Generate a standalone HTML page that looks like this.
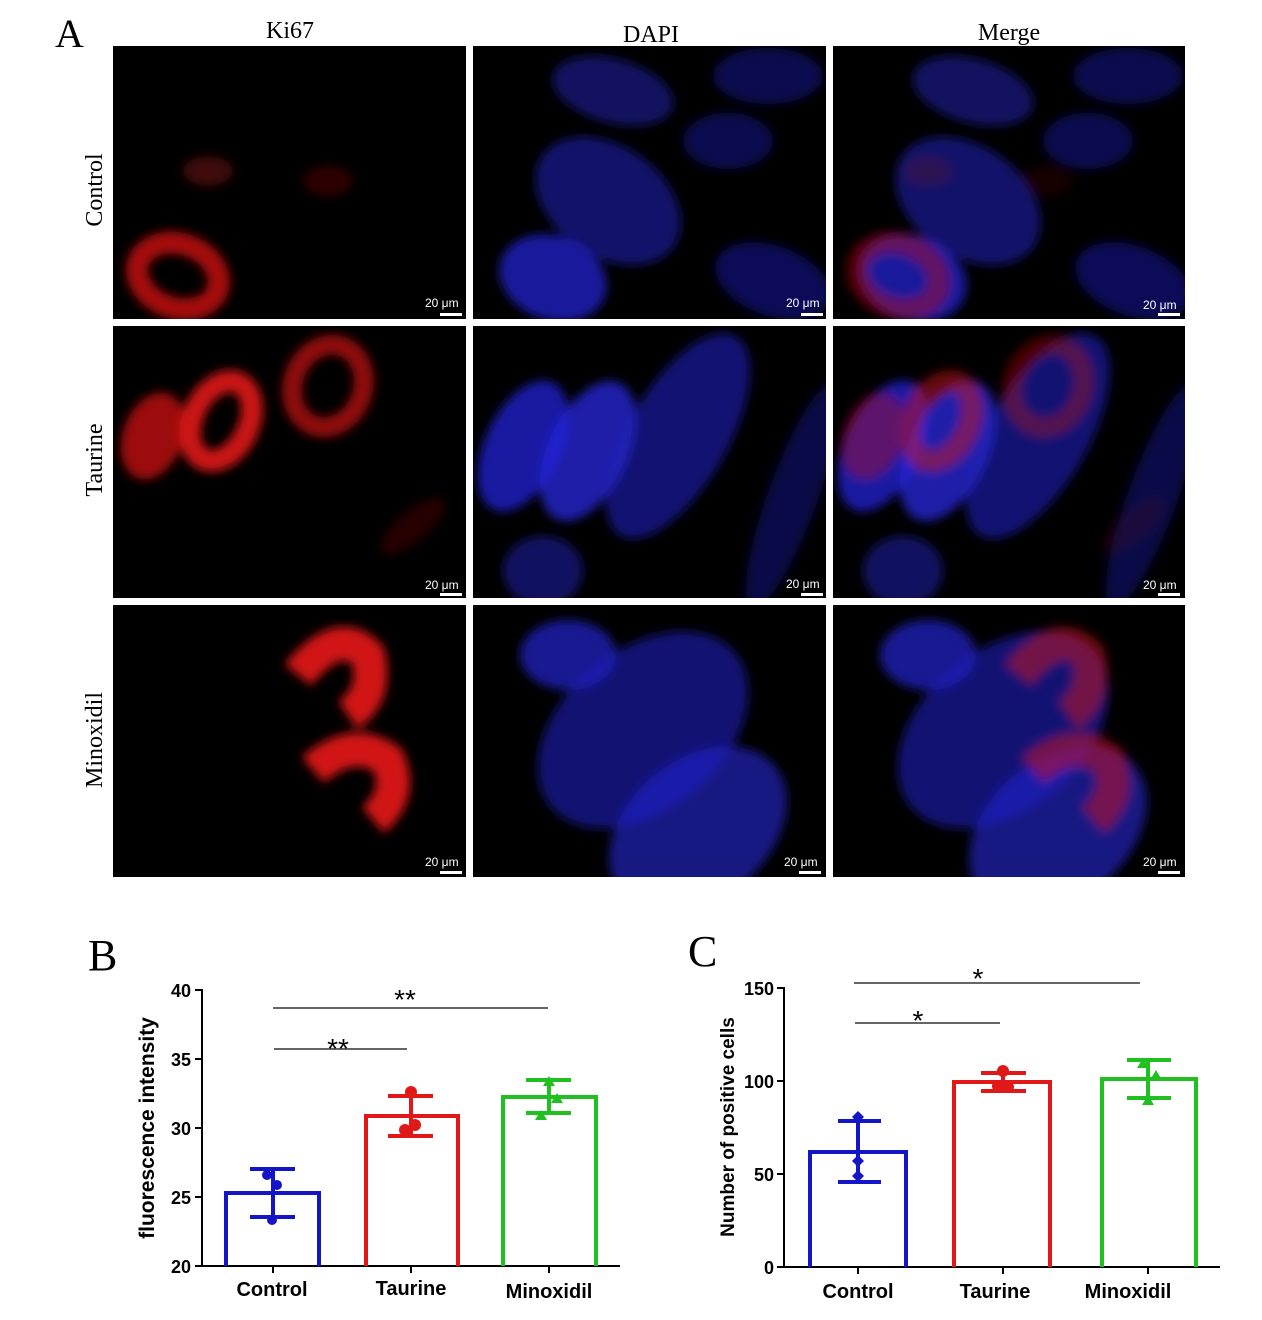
<!DOCTYPE html>
<html><head><meta charset="utf-8"><style>
html,body{margin:0;padding:0;background:#fff;}
svg{display:block;}
.serif{font-family:"Liberation Serif",serif;}
.sans{font-family:"Liberation Sans",sans-serif;font-weight:bold;}
</style></head><body>
<svg width="1262" height="1320" viewBox="0 0 1262 1320" xmlns="http://www.w3.org/2000/svg">
<defs>
<filter id="bl" x="-30%" y="-30%" width="160%" height="160%"><feGaussianBlur stdDeviation="5"/></filter>
<g id="dapi1">
<ellipse cx="140" cy="45" rx="62" ry="32" transform="rotate(15 140 45)" fill="#1a1aa0" opacity=".6"/>
<ellipse cx="295" cy="30" rx="55" ry="28" fill="#1a1a90" opacity=".55"/>
<ellipse cx="255" cy="95" rx="45" ry="28" fill="#1a1a90" opacity=".55"/>
<ellipse cx="135" cy="155" rx="80" ry="55" transform="rotate(35 135 155)" fill="#1c1cb0" opacity=".6"/>
<ellipse cx="80" cy="232" rx="55" ry="42" transform="rotate(20 80 232)" fill="#2424d0" opacity=".75"/>
<ellipse cx="300" cy="235" rx="60" ry="35" transform="rotate(20 300 235)" fill="#1a1aa0" opacity=".55"/>
</g>
<g id="dapi2">
<ellipse cx="50" cy="120" rx="38" ry="70" transform="rotate(25 50 120)" fill="#2222d8" opacity=".75"/>
<ellipse cx="115" cy="125" rx="40" ry="75" transform="rotate(25 115 125)" fill="#2626e0" opacity=".75"/>
<ellipse cx="205" cy="110" rx="50" ry="115" transform="rotate(30 205 110)" fill="#2020c0" opacity=".6"/>
<ellipse cx="70" cy="245" rx="40" ry="35" fill="#1c1cb0" opacity=".55"/>
<ellipse cx="320" cy="170" rx="25" ry="120" transform="rotate(20 320 170)" fill="#1818a0" opacity=".45"/>
</g>
<g id="dapi3">
<ellipse cx="95" cy="50" rx="48" ry="35" fill="#2424d0" opacity=".7"/>
<ellipse cx="170" cy="125" rx="120" ry="80" transform="rotate(-40 170 125)" fill="#2020c0" opacity=".6"/>
<ellipse cx="225" cy="225" rx="100" ry="70" transform="rotate(-40 225 225)" fill="#2222c8" opacity=".65"/>
</g>
<g id="red1">
<ellipse cx="65" cy="230" rx="42" ry="32" transform="rotate(20 65 230)" fill="none" stroke="#d01010" stroke-width="22" opacity=".8"/>
<ellipse cx="95" cy="125" rx="25" ry="15" fill="#801010" opacity=".5"/>
<ellipse cx="215" cy="135" rx="25" ry="15" fill="#701010" opacity=".4"/>
</g>
<g id="red2">
<ellipse cx="40" cy="110" rx="30" ry="45" transform="rotate(20 40 110)" fill="#d01010" opacity=".75"/>
<ellipse cx="108" cy="95" rx="28" ry="42" transform="rotate(25 108 95)" fill="none" stroke="#e01515" stroke-width="22" opacity=".9"/>
<ellipse cx="215" cy="60" rx="35" ry="42" transform="rotate(20 215 60)" fill="none" stroke="#c01010" stroke-width="20" opacity=".75"/>
<ellipse cx="300" cy="200" rx="40" ry="15" transform="rotate(-40 300 200)" fill="#601010" opacity=".4"/>
</g>
<g id="red3">
<path d="M185 70 Q225 20 255 50 Q265 90 235 110" fill="none" stroke="#e81515" stroke-width="34" opacity=".9"/>
<path d="M200 165 Q240 130 275 155 Q290 190 260 215" fill="none" stroke="#e81515" stroke-width="34" opacity=".9"/>
</g>
</defs>

<text x="55" y="47" class="serif" font-size="40">A</text>
<text x="290" y="38" class="serif" font-size="24" text-anchor="middle">Ki67</text>
<text x="651" y="42" class="serif" font-size="24" text-anchor="middle">DAPI</text>
<text x="1009" y="40" class="serif" font-size="24" text-anchor="middle">Merge</text>
<text transform="translate(102 190) rotate(-90)" class="serif" font-size="24" text-anchor="middle">Control</text>
<text transform="translate(102 460) rotate(-90)" class="serif" font-size="24" text-anchor="middle">Taurine</text>
<text transform="translate(102 740) rotate(-90)" class="serif" font-size="24" text-anchor="middle">Minoxidil</text>

<svg x="113" y="46" width="353" height="273"><rect width="353" height="273" fill="#000"/><g filter="url(#bl)"><use href="#red1"/></g></svg>
<svg x="473" y="46" width="353" height="273"><rect width="353" height="273" fill="#000"/><g filter="url(#bl)"><use href="#dapi1"/></g></svg>
<svg x="833" y="46" width="352" height="273"><rect width="352" height="273" fill="#000"/><g filter="url(#bl)"><use href="#dapi1"/><g opacity=".5"><use href="#red1"/></g></g></svg>
<svg x="113" y="326" width="353" height="272"><rect width="353" height="272" fill="#000"/><g filter="url(#bl)"><use href="#red2"/></g></svg>
<svg x="473" y="326" width="353" height="272"><rect width="353" height="272" fill="#000"/><g filter="url(#bl)"><use href="#dapi2"/></g></svg>
<svg x="833" y="326" width="352" height="272"><rect width="352" height="272" fill="#000"/><g filter="url(#bl)"><use href="#dapi2"/><g opacity=".5"><use href="#red2"/></g></g></svg>
<svg x="113" y="605" width="353" height="272"><rect width="353" height="272" fill="#000"/><g filter="url(#bl)"><use href="#red3"/></g></svg>
<svg x="473" y="605" width="353" height="272"><rect width="353" height="272" fill="#000"/><g filter="url(#bl)"><use href="#dapi3"/></g></svg>
<svg x="833" y="605" width="352" height="272"><rect width="352" height="272" fill="#000"/><g filter="url(#bl)"><use href="#dapi3"/><g opacity=".5"><use href="#red3"/></g></g></svg>

<g fill="#fff" font-family="Liberation Sans,sans-serif" font-size="12">
<text x="425" y="307">20 μm</text><rect x="440" y="313" width="22" height="3"/>
<text x="786" y="307">20 μm</text><rect x="801" y="313" width="22" height="3"/>
<text x="1143" y="309">20 μm</text><rect x="1158" y="313" width="22" height="3"/>
<text x="425" y="589">20 μm</text><rect x="440" y="593" width="22" height="3"/>
<text x="786" y="588">20 μm</text><rect x="801" y="593" width="22" height="3"/>
<text x="1143" y="589">20 μm</text><rect x="1158" y="593" width="22" height="3"/>
<text x="425" y="866">20 μm</text><rect x="440" y="871" width="22" height="3"/>
<text x="784" y="866">20 μm</text><rect x="799" y="871" width="22" height="3"/>
<text x="1143" y="866">20 μm</text><rect x="1158" y="871" width="22" height="3"/>
</g>

<!-- Chart B -->
<text x="88" y="970" class="serif" font-size="44">B</text>
<g stroke="#000" stroke-width="2" fill="none">
<line x1="202" y1="989" x2="202" y2="1267"/>
<line x1="201" y1="1266" x2="620" y2="1266"/>
<line x1="195" y1="990" x2="202" y2="990"/>
<line x1="195" y1="1059" x2="202" y2="1059"/>
<line x1="195" y1="1128" x2="202" y2="1128"/>
<line x1="195" y1="1197" x2="202" y2="1197"/>
<line x1="195" y1="1266" x2="202" y2="1266"/>
<line x1="273" y1="1266" x2="273" y2="1273"/>
<line x1="411" y1="1266" x2="411" y2="1273"/>
<line x1="549" y1="1266" x2="549" y2="1273"/>
</g>
<g class="sans" font-size="18" text-anchor="end">
<text x="191" y="997">40</text><text x="191" y="1066">35</text><text x="191" y="1135">30</text><text x="191" y="1204">25</text><text x="191" y="1273">20</text>
</g>
<text transform="translate(154 1128) rotate(-90)" class="sans" font-size="21" text-anchor="middle">fluorescence intensity</text>
<g class="sans" font-size="20" text-anchor="middle">
<text x="272" y="1296">Control</text><text x="411" y="1295">Taurine</text><text x="549" y="1298">Minoxidil</text>
</g>
<g fill="none" stroke-width="4">
<path d="M226 1266 V1193 H319 V1266" stroke="#1515c8"/>
<path d="M366 1266 V1116 H458 V1266" stroke="#e01818"/>
<path d="M503 1266 V1097 H596 V1266" stroke="#20c020"/>
</g>
<g stroke-width="4">
<g stroke="#1515c8"><line x1="273" y1="1169" x2="273" y2="1217"/><line x1="250" y1="1169" x2="295" y2="1169"/><line x1="250" y1="1217" x2="295" y2="1217"/></g>
<g stroke="#e01818"><line x1="411" y1="1096" x2="411" y2="1136"/><line x1="388" y1="1096" x2="433" y2="1096"/><line x1="388" y1="1136" x2="433" y2="1136"/></g>
<g stroke="#20c020"><line x1="549" y1="1080" x2="549" y2="1113"/><line x1="526" y1="1080" x2="571" y2="1080"/><line x1="526" y1="1113" x2="571" y2="1113"/></g>
</g>
<g fill="#1515c8"><circle cx="267" cy="1175" r="5"/><circle cx="277" cy="1185" r="5"/><circle cx="272" cy="1220" r="5"/></g>
<g fill="#e01818"><circle cx="411" cy="1092" r="6"/><circle cx="405" cy="1130" r="6"/><circle cx="415" cy="1125" r="6"/></g>
<g fill="#20c020"><path d="M549 1076 l6 10 h-12z"/><path d="M557 1093 l6 10 h-12z"/><path d="M541 1110 l6 10 h-12z"/></g>
<g stroke="#333" stroke-width="1.5"><line x1="274" y1="1049" x2="407" y2="1049"/><line x1="273" y1="1008" x2="548" y2="1008"/></g>
<g font-family="Liberation Sans,sans-serif" font-size="28" text-anchor="middle"><text x="338" y="1058">**</text><text x="405" y="1009">**</text></g>

<!-- Chart C -->
<text x="688" y="966" class="serif" font-size="44">C</text>
<g stroke="#000" stroke-width="2" fill="none">
<line x1="784" y1="987" x2="784" y2="1268"/>
<line x1="783" y1="1267" x2="1220" y2="1267"/>
<line x1="777" y1="988" x2="784" y2="988"/>
<line x1="777" y1="1081" x2="784" y2="1081"/>
<line x1="777" y1="1174" x2="784" y2="1174"/>
<line x1="777" y1="1267" x2="784" y2="1267"/>
<line x1="858" y1="1267" x2="858" y2="1274"/>
<line x1="1003" y1="1267" x2="1003" y2="1274"/>
<line x1="1148" y1="1267" x2="1148" y2="1274"/>
</g>
<g class="sans" font-size="18" text-anchor="end">
<text x="774" y="995">150</text><text x="774" y="1088">100</text><text x="774" y="1181">50</text><text x="774" y="1274">0</text>
</g>
<text transform="translate(734 1127) rotate(-90)" class="sans" font-size="19" text-anchor="middle">Number of positive cells</text>
<g class="sans" font-size="20" text-anchor="middle">
<text x="858" y="1298">Control</text><text x="995" y="1298">Taurine</text><text x="1128" y="1298">Minoxidil</text>
</g>
<g fill="none" stroke-width="4">
<path d="M810 1267 V1152 H906 V1267" stroke="#1515c8"/>
<path d="M954 1267 V1082 H1050 V1267" stroke="#e01818"/>
<path d="M1102 1267 V1079 H1196 V1267" stroke="#20c020"/>
</g>
<g stroke-width="4">
<g stroke="#1515c8"><line x1="858" y1="1121" x2="858" y2="1182"/><line x1="838" y1="1121" x2="881" y2="1121"/><line x1="838" y1="1182" x2="881" y2="1182"/></g>
<g stroke="#e01818"><line x1="1003" y1="1073" x2="1003" y2="1091"/><line x1="981" y1="1073" x2="1026" y2="1073"/><line x1="981" y1="1091" x2="1026" y2="1091"/></g>
<g stroke="#20c020"><line x1="1148" y1="1060" x2="1148" y2="1098"/><line x1="1127" y1="1060" x2="1171" y2="1060"/><line x1="1127" y1="1098" x2="1171" y2="1098"/></g>
</g>
<g fill="#1515c8"><path d="M858 1111 l6 6 -6 6 -6 -6z"/><path d="M858 1155 l6 6 -6 6 -6 -6z"/><path d="M858 1170 l6 6 -6 6 -6 -6z"/></g>
<g fill="#e01818"><circle cx="1003" cy="1071" r="6"/><circle cx="998" cy="1086" r="6"/><circle cx="1008" cy="1087" r="6"/></g>
<g fill="#20c020"><path d="M1143 1058 l6 10 h-12z"/><path d="M1156 1070 l6 10 h-12z"/><path d="M1148 1095 l6 10 h-12z"/></g>
<g stroke="#333" stroke-width="1.5"><line x1="855" y1="1023" x2="1000" y2="1023"/><line x1="854" y1="983" x2="1140" y2="983"/></g>
<g font-family="Liberation Sans,sans-serif" font-size="28" text-anchor="middle"><text x="918" y="1030">*</text><text x="978" y="988">*</text></g>
</svg>
</body></html>
